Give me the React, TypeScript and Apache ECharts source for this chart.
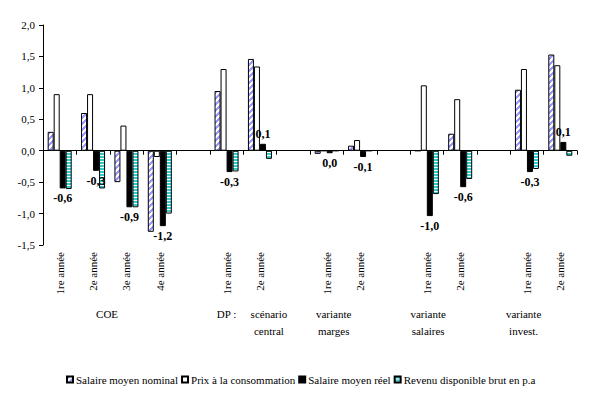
import React, { useEffect, useRef } from 'react';
import * as echarts from 'echarts';

// ---- data ----
const categories = [
  '1re année', '2e année', '3e année', '4e année', '',
  '1re année', '2e année', '',
  '1re année', '2e année', '',
  '1re année', '2e année', '',
  '1re année', '2e année',
];
const seriesNames = [
  'Salaire moyen nominal',
  'Prix à la consommation',
  'Salaire moyen réel',
  'Revenu disponible brut en p.a',
];
const salaireNominal = [0.3, 0.6, -0.5, -1.29, null, 0.95, 1.46, null, -0.05, 0.08, null, 0, 0.27, null, 0.97, 1.53];
const prixConso = [0.9, 0.9, 0.4, -0.1, null, 1.3, 1.34, null, 0, 0.17, null, 1.04, 0.82, null, 1.3, 1.36];
const salaireReel = [-0.6, -0.32, -0.9, -1.2, null, -0.34, 0.11, null, -0.04, -0.1, null, -1.04, -0.58, null, -0.34, 0.14];
const revenuDispo = [-0.61, -0.6, -0.9, -1.0, null, -0.33, -0.13, null, 0, 0, null, -0.69, -0.45, null, -0.29, -0.08];
const groupNames = ['COE', 'DP :', 'scénario\ncentral', 'variante\nmarges', 'variante\nsalaires', 'variante\ninvest.'];
const yMin = -1.5;
const yMax = 2;
const yStep = 0.5;

// ---- layout (category units, relative to first category centre) ----
const groupLabelPos = [1.42, 5.0, 6.27, 8.21, 11.04, 13.9];

const FONT = 'Liberation Serif';

function makePattern(w: number, h: number, paint: (x: number, y: number) => string) {
  const c = document.createElement('canvas');
  c.width = w;
  c.height = h;
  const ctx = c.getContext('2d')!;
  for (let y = 0; y < h; y++) {
    for (let x = 0; x < w; x++) {
      ctx.fillStyle = paint(x, y);
      ctx.fillRect(x, y, 1, 1);
    }
  }
  return { image: c, repeat: 'repeat', imageWidth: w, imageHeight: h } as any;
}

const fmt = (v: number) => {
  let r = Math.round(v * 10) / 10;
  if (r === 0) r = 0;
  return r.toFixed(1).replace('.', ',');
};

export default function App() {
  const ref = useRef<HTMLDivElement>(null);
  useEffect(() => {
    document.body.style.margin = '0';
    const chart = echarts.init(ref.current!, null, { renderer: 'svg' });
    const hatch = makePattern(6, 6, (x, y) => ((x + y) % 6 < 3 ? '#9999ff' : '#ffffff'));
    const teal = makePattern(4, 3, (_x, y) => (y < 2 ? '#33cccc' : '#ffffff'));

    const border = { borderColor: '#000', borderWidth: 1 };
    const option: any = {
      animation: false,
      backgroundColor: '#fff',
      textStyle: { fontFamily: FONT },
      grid: { left: 43, right: 14, top: 25, bottom: 150 },
      legend: {
        left: 66,
        top: 374,
        itemWidth: 6,
        itemHeight: 6,
        itemGap: 3,
        padding: 0,
        icon: 'rect',
        data: seriesNames,
        textStyle: { fontFamily: FONT, fontSize: 11, color: '#000', padding: [0, 0, 0, -2] },
      },
      xAxis: [
        {
          type: 'category',
          data: categories,
          position: 'bottom',
          axisLine: { show: false, onZero: false },
          axisTick: { show: false },
          axisLabel: {
            rotate: 90,
            interval: 0,
            margin: 7,
            fontFamily: FONT,
            fontSize: 11,
            color: '#000',
          },
        },
        {
          type: 'category',
          data: categories,
          position: 'bottom',
          axisLine: { show: true, onZero: true, lineStyle: { color: '#000', width: 1 } },
          axisTick: { show: true, interval: 0, length: 4, lineStyle: { color: '#000' } },
          axisLabel: { show: false },
        },
      ],
      yAxis: {
        type: 'value',
        min: yMin,
        max: yMax,
        interval: yStep,
        axisLine: { show: true, lineStyle: { color: '#000', width: 1 } },
        axisTick: { show: true, length: 4, lineStyle: { color: '#000' } },
        splitLine: { show: false },
        axisLabel: {
          formatter: (v: number) => v.toFixed(1).replace('.', ','),
          fontFamily: FONT,
          fontSize: 11,
          color: '#000',
          margin: 8,
        },
      },
      series: [
        {
          name: seriesNames[0],
          type: 'bar',
          xAxisIndex: 0,
          data: salaireNominal,
          barGap: '0%',
          barCategoryGap: '28%',
          itemStyle: { color: hatch, ...border },
        },
        {
          name: seriesNames[1],
          type: 'bar',
          xAxisIndex: 0,
          data: prixConso,
          itemStyle: { color: '#ffffff', ...border },
        },
        {
          name: seriesNames[2],
          type: 'bar',
          xAxisIndex: 0,
          data: salaireReel.map((v) =>
            v == null
              ? null
              : { value: v, label: { position: v < 0 ? 'bottom' : 'top' } }
          ),
          itemStyle: { color: '#000000', ...border },
          label: {
            show: true,
            distance: 4,
            fontFamily: FONT,
            fontSize: 12,
            fontWeight: 'bold',
            color: '#000',
            formatter: (p: any) => fmt(p.value),
          },
        },
        {
          name: seriesNames[3],
          type: 'bar',
          xAxisIndex: 0,
          data: revenuDispo,
          itemStyle: { color: teal, ...border },
        },
      ],
    };
    chart.setOption(option);

    const x0 = chart.convertToPixel({ xAxisIndex: 0 }, 0) as number;
    const x1 = chart.convertToPixel({ xAxisIndex: 0 }, 1) as number;
    const step = x1 - x0;
    chart.setOption({
      graphic: groupNames.map((name, i) => ({
        type: 'text',
        x: x0 + step * groupLabelPos[i],
        y: 305,
        style: {
          text: name,
          fontFamily: FONT,
          fontSize: 11,
          fill: '#000',
          align: 'center',
          verticalAlign: 'top',
          lineHeight: 17,
        },
      })),
    });

    return () => chart.dispose();
  }, []);
  return <div ref={ref} style={{ width: 591, height: 395 }} />;
}
